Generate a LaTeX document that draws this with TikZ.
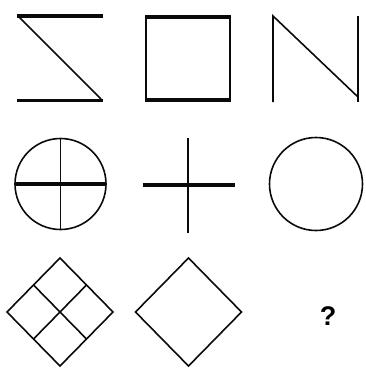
\documentclass[tikz,border=0pt]{standalone}
\usepackage{fontspec}
\setsansfont{Liberation Sans}
\usetikzlibrary{calc}
\definecolor{lineColor}{RGB}{10,10,10}
\newcommand{\qfont}{\sffamily\bfseries\fontsize{27}{29}\selectfont}

\begin{document}
\begin{tikzpicture}[
        x=1pt, y=-1pt,
        fig/.style={draw=lineColor, line width=1.6pt, line join=miter},
        bar/.style={draw=lineColor, line width=3.2pt},
        qlabel/.style={font=\qfont, inner sep=0pt}
      ]
      \useasboundingbox (0,0) rectangle (366,372);

      % row 1
      \draw[bar] (17,16) -- (103,16);
      \draw[bar] (17,100.5) -- (103,100.5);
      \draw[fig] (19,17) -- (101,99);

      \draw[fig] (146,16) rectangle (230,101);
      \draw[bar] (145,17) -- (231,17);
      \draw[bar] (145,100) -- (231,100);

      \draw[fig] (273,102) -- (273,16) -- (358,97);
      \draw[fig] (358,16) -- (358,102);

      % row 2
      \coordinate (c1) at (60.5,184);
      \draw[fig] (c1) circle[radius=45.5];
      \draw[bar] ($(c1)+(-45.5,0)$) -- ($(c1)+(45.5,0)$);
      \draw[fig] ($(c1)+(0,-45.5)$) -- ($(c1)+(0,45.5)$);

      \coordinate (c2) at (188,185);
      \draw[bar] ($(c2)+(-45,0)$) -- ($(c2)+(47,0)$);
      \draw[fig] ($(c2)+(0,-47)$) -- ($(c2)+(0,48)$);

      \coordinate (c3) at (316,184);
      \draw[fig] (c3) circle[radius=46.5];

      % row 3
      \coordinate (d1) at (60,312);
      \draw[fig] ($(d1)+(0,-54)$) coordinate (d1t) -- ($(d1)+(53,0)$) coordinate (d1r)
        -- ($(d1)+(0,54)$) coordinate (d1b) -- ($(d1)+(-53,0)$) coordinate (d1l) -- cycle;
      \draw[fig] ($(d1t)!0.5!(d1l)$) -- ($(d1r)!0.5!(d1b)$);
      \draw[fig] ($(d1t)!0.5!(d1r)$) -- ($(d1l)!0.5!(d1b)$);

      \coordinate (d2) at (188.5,312);
      \draw[fig] ($(d2)+(0,-54)$) -- ($(d2)+(53,0)$) -- ($(d2)+(0,54)$)
        -- ($(d2)+(-53,0)$) -- cycle;

      \node[qlabel] (qmark) at (328,316) {?};
    \end{tikzpicture}
\end{document}
